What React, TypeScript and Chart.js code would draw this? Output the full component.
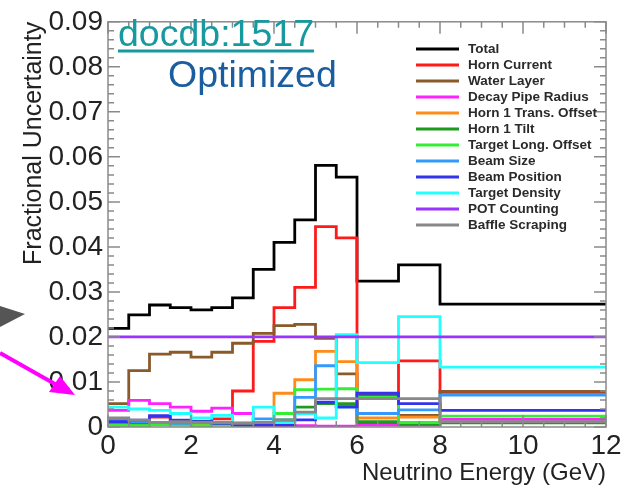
import { useEffect, useRef } from "react";
import { Chart, registerables } from "chart.js";

Chart.register(...registerables);

const FONT = "'Liberation Sans', Arial, Helvetica, sans-serif";

// Bin edges (GeV)
const binEdges = [0, 0.5, 1, 1.5, 2, 2.5, 3, 3.5, 4, 4.5, 5, 5.5, 6, 7, 8, 12];

const seriesLabels = [
  "Total",
  "Horn Current",
  "Water Layer",
  "Decay Pipe Radius",
  "Horn 1 Trans. Offset",
  "Horn 1 Tilt",
  "Target Long. Offset",
  "Beam Size",
  "Beam Position",
  "Target Density",
  "POT Counting",
  "Baffle Scraping",
];

const seriesColors = [
  "#000000",
  "#ff1a1a",
  "#8b5a2b",
  "#ff22ff",
  "#ff8c1a",
  "#1f9a1f",
  "#33ee33",
  "#3399ff",
  "#3333ee",
  "#22ffff",
  "#9933ff",
  "#888888",
];

const total = [0.0219, 0.0249, 0.0271, 0.0265, 0.026, 0.0265, 0.0287, 0.035, 0.041, 0.046, 0.0581, 0.0555, 0.0324, 0.036, 0.0273];
const hornCurrent = [0.001, 0.0012, 0.0022, 0.001, 0.0012, 0.0018, 0.008, 0.019, 0.0265, 0.031, 0.0445, 0.042, 0.0008, 0.0147, 0.0077];
const waterLayer = [0.0052, 0.0125, 0.0162, 0.0166, 0.0155, 0.0166, 0.0186, 0.0208, 0.0225, 0.0228, 0.0197, 0.0118, 0.007, 0.0026, 0.0079];
const decayPipe = [0.0037, 0.0059, 0.0052, 0.0044, 0.0035, 0.0042, 0.003, 0.0003, 0.0003, 0.0003, 0.0002, 0.0002, 0.0004, 0.0004, 0.0017];
const horn1Trans = [0.0004, 0.0004, 0.0006, 0.0007, 0.0005, 0.0005, 0.0004, 0.0008, 0.0075, 0.0105, 0.0168, 0.0145, 0.002, 0.0022, 0.001];
const horn1Tilt = [0.0004, 0.0008, 0.001, 0.0009, 0.0012, 0.0008, 0.0006, 0.0008, 0.0016, 0.0044, 0.0052, 0.0052, 0.0012, 0.0006, 0.0009];
const targetLong = [0.0004, 0.0003, 0.0005, 0.0004, 0.0003, 0.0004, 0.0004, 0.0006, 0.003, 0.0083, 0.0084, 0.0085, 0.0066, 0.001, 0.0024];
const beamSize = [0.0015, 0.0012, 0.001, 0.0008, 0.001, 0.001, 0.0005, 0.0018, 0.0015, 0.0066, 0.0136, 0.0044, 0.003, 0.0038, 0.0071];
const beamPosition = [0.0012, 0.0015, 0.0025, 0.0015, 0.0012, 0.0008, 0.0004, 0.0004, 0.0004, 0.0016, 0.0055, 0.0045, 0.0075, 0.0052, 0.0037];
const targetDensity = [0.0044, 0.004, 0.0037, 0.003, 0.002, 0.0026, 0.001, 0.0044, 0.001, 0.003, 0.002, 0.0205, 0.0143, 0.0245, 0.0133];
const potCounting = [0.02, 0.02, 0.02, 0.02, 0.02, 0.02, 0.02, 0.02, 0.02, 0.02, 0.02, 0.02, 0.02, 0.02, 0.02];
const baffleScraping = [0.002, 0.0015, 0.001, 0.0012, 0.001, 0.001, 0.0008, 0.001, 0.0015, 0.0033, 0.0063, 0.0063, 0.0063, 0.0063, 0.0012];

const seriesValues = [
  total,
  hornCurrent,
  waterLayer,
  decayPipe,
  horn1Trans,
  horn1Tilt,
  targetLong,
  beamSize,
  beamPosition,
  targetDensity,
  potCounting,
  baffleScraping,
];

const xTickLabels = ["0", "2", "4", "6", "8", "10", "12"];
const yTickLabels = ["0", "0.01", "0.02", "0.03", "0.04", "0.05", "0.06", "0.07", "0.08", "0.09"];

function toSteps(values: number[]) {
  const pts = values.map((v, i) => ({ x: binEdges[i], y: v }));
  pts.push({ x: binEdges[binEdges.length - 1], y: values[values.length - 1] });
  return pts;
}

const framePlugin = {
  id: "rootFrame",
  afterDatasetsDraw(chart: any) {
    const { ctx, chartArea } = chart;
    const xs = chart.scales.x;
    const ys = chart.scales.y;
    const { left, right, top, bottom } = chartArea;
    ctx.save();
    ctx.strokeStyle = "#8a8a8a";
    ctx.lineWidth = 1.5;
    ctx.strokeRect(left, top, right - left, bottom - top);
    ctx.beginPath();
    for (let i = 0; i <= 24; i++) {
      const v = i * 0.5;
      const px = xs.getPixelForValue(v);
      const len = i % 4 === 0 ? 12 : 6;
      ctx.moveTo(px, bottom);
      ctx.lineTo(px, bottom - len);
      ctx.moveTo(px, top);
      ctx.lineTo(px, top + len);
    }
    for (let i = 0; i <= 45; i++) {
      const v = i * 0.002;
      const py = ys.getPixelForValue(v);
      const len = i % 5 === 0 ? 12 : 6;
      ctx.moveTo(left, py);
      ctx.lineTo(left + len, py);
      ctx.moveTo(right, py);
      ctx.lineTo(right - len, py);
    }
    ctx.stroke();
    ctx.restore();
  },
};

const overlayPlugin = {
  id: "overlay",
  afterDraw(chart: any) {
    const { ctx } = chart;
    ctx.save();
    // Legend
    const datasets = chart.data.datasets;
    ctx.font = `bold 13.5px ${FONT}`;
    ctx.textBaseline = "middle";
    ctx.textAlign = "left";
    datasets.forEach((ds: any, i: number) => {
      const y = 49 + i * 16;
      ctx.strokeStyle = ds.borderColor;
      ctx.lineWidth = 3;
      ctx.beginPath();
      ctx.moveTo(416, y);
      ctx.lineTo(459, y);
      ctx.stroke();
      ctx.fillStyle = "#2a2a2a";
      ctx.fillText(ds.label, 468, y);
    });

    // Annotations
    ctx.textBaseline = "alphabetic";
    ctx.font = `37.5px ${FONT}`;
    ctx.fillStyle = "#17999f";
    ctx.fillText("docdb:1517", 118, 46);
    const w = ctx.measureText("docdb:1517").width;
    ctx.fillRect(118, 49.5, w, 3);
    ctx.fillStyle = "#1b5ea0";
    ctx.fillText("Optimized", 168, 87);

    // Arrows outside the frame
    ctx.fillStyle = "#555555";
    ctx.beginPath();
    ctx.moveTo(0, 306);
    ctx.lineTo(25, 314);
    ctx.lineTo(0, 327);
    ctx.closePath();
    ctx.fill();

    ctx.strokeStyle = "#ff00ff";
    ctx.fillStyle = "#ff00ff";
    ctx.lineWidth = 4;
    ctx.beginPath();
    ctx.moveTo(0, 353);
    ctx.lineTo(62, 388);
    ctx.stroke();
    ctx.beginPath();
    ctx.moveTo(75, 395);
    ctx.lineTo(49, 392);
    ctx.lineTo(60, 376);
    ctx.closePath();
    ctx.fill();
    ctx.restore();
  },
};

export default function App() {
  const canvasRef = useRef<HTMLCanvasElement | null>(null);

  useEffect(() => {
    if (!canvasRef.current) return;
    const n = seriesLabels.length;
    const chart = new Chart(canvasRef.current, {
      type: "line",
      data: {
        datasets: seriesLabels.map((label, i) => ({
          label,
          data: toSteps(seriesValues[i]),
          borderColor: seriesColors[i],
          backgroundColor: seriesColors[i],
          borderWidth: 2.8,
          pointRadius: 0,
          fill: false,
          stepped: true,
          order: n - i,
        })),
      },
      options: {
        animation: false,
        responsive: false,
        events: [],
        layout: { padding: { top: 17, right: 21, left: 0, bottom: 0 } },
        plugins: {
          legend: { display: false },
          tooltip: { enabled: false },
        },
        scales: {
          x: {
            type: "linear",
            min: 0,
            max: 12,
            grid: { display: false, drawTicks: false },
            border: { display: false },
            ticks: {
              stepSize: 2,
              autoSkip: false,
              maxRotation: 0,
              color: "#222222",
              padding: 2,
              font: { size: 28, family: FONT },
              callback: (v: any) => xTickLabels[Math.round(Number(v) / 2)] ?? "",
            },
            title: {
              display: true,
              text: "Neutrino Energy (GeV)",
              align: "end",
              color: "#222222",
              font: { size: 24, family: FONT },
              padding: { top: 0, bottom: 5 },
            },
            afterFit: (s: any) => {
              s.height = 66;
            },
          },
          y: {
            type: "linear",
            min: 0,
            max: 0.09,
            grid: { display: false, drawTicks: false },
            border: { display: false },
            ticks: {
              stepSize: 0.01,
              autoSkip: false,
              color: "#222222",
              padding: 5,
              font: { size: 28, family: FONT },
              callback: (v: any) => yTickLabels[Math.round(Number(v) * 100)] ?? "",
            },
            title: {
              display: true,
              text: "Fractional Uncertainty",
              align: "end",
              color: "#222222",
              font: { size: 25, family: FONT },
              padding: { top: 19, bottom: 0 },
            },
            afterFit: (s: any) => {
              s.width = 108;
            },
          },
        },
      },
      plugins: [framePlugin, overlayPlugin],
    } as any);
    return () => chart.destroy();
  }, []);

  return (
    <canvas
      ref={canvasRef}
      width={627}
      height={493}
      style={{ position: "absolute", left: 0, top: 0, display: "block" }}
    />
  );
}
